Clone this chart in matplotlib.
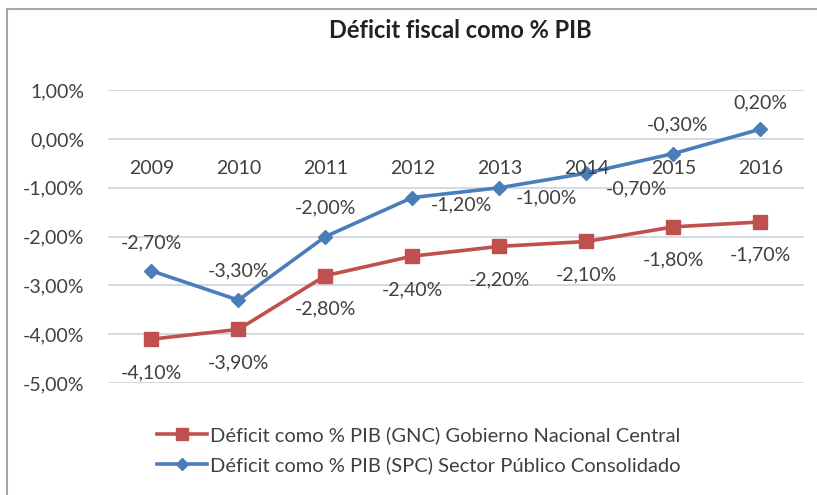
import matplotlib.pyplot as plt
from matplotlib.lines import Line2D
from matplotlib.patches import Rectangle

plt.rcParams['font.family'] = ['Lato', 'DejaVu Sans']

years = ['2009', '2010', '2011', '2012', '2013', '2014', '2015', '2016']
gnc = [-4.1, -3.9, -2.8, -2.4, -2.2, -2.1, -1.8, -1.7]
spc = [-2.7, -3.3, -2.0, -1.2, -1.0, -0.7, -0.3, 0.2]
yticks = [1, 0, -1, -2, -3, -4, -5]

label_gnc = 'Déficit como % PIB (GNC) Gobierno Nacional Central'
label_spc = 'Déficit como % PIB (SPC) Sector Público Consolidado'

RED = '#C0504D'
BLUE = '#4A7EBB'
GRID = '#C9D3DF'
TXT = '#404040'
FS = 14


def pct(v):
    return f'{v:.2f}%'.replace('.', ',')


fig = plt.figure(figsize=(8.17, 4.95), dpi=100)
ax = fig.add_axes([0.132, 0.226, 0.852, 0.592])

x = list(range(len(years)))
ax.plot(x, gnc, color=RED, lw=2.6, marker='s', ms=10, mec=RED, mfc=RED, zorder=3)
ax.plot(x, spc, color=BLUE, lw=2.6, marker='D', ms=7.5, mec=BLUE, mfc=BLUE, zorder=3)

ax.set_xlim(-0.5, 7.5)
ax.set_ylim(-5, 1)
ax.set_yticks(yticks)
ax.set_yticklabels([pct(v) for v in yticks], fontsize=FS, color=TXT)
ax.tick_params(axis='y', length=0, pad=17)
ax.set_xticks([])
ax.grid(axis='y', color=GRID, lw=1.2)
for s in ax.spines.values():
    s.set_visible(False)

# category labels sit just under the zero line, like Excel
for i, yr in enumerate(years):
    ax.annotate(yr, (i, 0), xytext=(0, -21), textcoords='offset points',
                ha='center', va='center', fontsize=FS, color=TXT)

# data labels
for i, v in enumerate(gnc):
    ax.annotate(pct(v), (i, v), xytext=(0, -24), textcoords='offset points',
                ha='center', va='center', fontsize=FS, color=TXT)

spc_offsets = [(0, 20), (0, 21), (0, 21), (35, -5), (34, -7), (36, -11), (3, 21), (0, 19)]
for i, v in enumerate(spc):
    dx, dy = spc_offsets[i]
    ax.annotate(pct(v), (i, v), xytext=(dx, dy), textcoords='offset points',
                ha='center', va='center', fontsize=FS, color=TXT)

fig.text(0.563, 0.938, 'Déficit fiscal como % PIB', ha='center', va='center',
         fontsize=17, fontweight='bold', color='#222222')

# legend
handles = [
    Line2D([], [], color=RED, lw=2.6, marker='s', ms=9),
    Line2D([], [], color=BLUE, lw=2.6, marker='D', ms=6.5),
]
fig.legend(handles, [label_gnc, label_spc], loc='center left',
           bbox_to_anchor=(0.170, 0.091), frameon=False, fontsize=14.5,
           handlelength=2.5, handletextpad=0.15, labelspacing=0.6,
           labelcolor=TXT)

# chart border
fig.patches.append(Rectangle((7 / 817, -0.01), 1.0, 1 - 9 / 495 + 0.01,
                             transform=fig.transFigure, fill=False,
                             ec='#A6A6A6', lw=1.5))

fig.savefig('out.png', dpi=100)
